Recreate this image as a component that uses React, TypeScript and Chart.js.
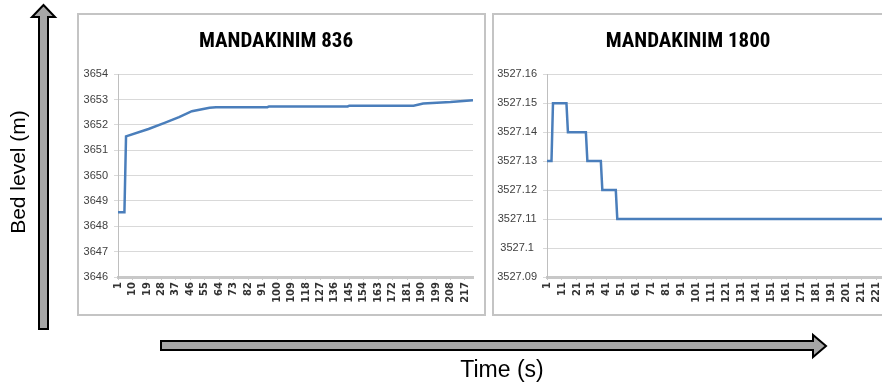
import React, { useEffect, useRef } from "react";
import { Chart, registerables } from "chart.js";

Chart.register(...registerables);

// ---------- data ----------
const leftTitle = "MANDAKINIM 836";
const leftX = [1, 5, 6, 20, 30, 39, 47, 58, 62, 94, 95, 144, 145, 185, 191, 208, 222];
const leftY = [
  3648.55, 3648.55, 3651.55, 3651.84, 3652.08, 3652.31, 3652.54, 3652.68, 3652.7,
  3652.7, 3652.73, 3652.73, 3652.76, 3652.76, 3652.84, 3652.9, 3652.97,
];
const leftXTicks = [
  1, 10, 19, 28, 37, 46, 55, 64, 73, 82, 91, 100, 109, 118, 127, 136, 145, 154, 163, 172,
  181, 190, 199, 208, 217,
];
const leftYTicks = [3646, 3647, 3648, 3649, 3650, 3651, 3652, 3653, 3654];

const rightTitle = "MANDAKINIM 1800";
const rightX = [1, 4, 5, 14, 15, 27, 28, 37, 38, 47, 48, 225];
const rightY = [
  3527.13, 3527.13, 3527.15, 3527.15, 3527.14, 3527.14, 3527.13, 3527.13, 3527.12,
  3527.12, 3527.11, 3527.11,
];
const rightXTicks = [
  1, 11, 21, 31, 41, 51, 61, 71, 81, 91, 101, 111, 121, 131, 141, 151, 161, 171, 181, 191,
  201, 211, 221,
];
const rightYTicks = [3527.09, 3527.1, 3527.11, 3527.12, 3527.13, 3527.14, 3527.15, 3527.16];

const yAxisLabel = "Bed level (m)";
const xAxisLabel = "Time (s)";

// ---------- styles ----------
const TITLE_FONT = '"Liberation Sans Narrow", "Roboto Condensed", "Liberation Sans", sans-serif';
const TICK_FONT = '"Liberation Sans Narrow", "Liberation Sans", sans-serif';
const XTICK_FONT = '"DejaVu Sans", sans-serif';

type PanelProps = {
  left: number;
  top: number;
  width: number;
  height: number;
  title: string;
  xs: number[];
  ys: number[];
  xTicks: number[];
  xMax: number;
  yTicks: number[];
  yAxisWidth: number;
  padRight: number;
};

function Panel(p: PanelProps) {
  const ref = useRef<HTMLCanvasElement | null>(null);
  const cw = p.width - 4;
  const ch = p.height - 4;
  useEffect(() => {
    if (!ref.current) return;
    const chart = new Chart(ref.current, {
      type: "line",
      data: {
        datasets: [
          {
            data: p.xs.map((x, i) => ({ x, y: p.ys[i] })),
            borderColor: "#4a7ebb",
            borderWidth: 2.5,
            pointRadius: 0,
            tension: 0,
            fill: false,
          },
        ],
      },
      options: {
        animation: false,
        responsive: false,
        maintainAspectRatio: false,
        layout: { padding: { left: 0, right: p.padRight, top: 0, bottom: 0 } },
        plugins: {
          legend: { display: false },
          tooltip: { enabled: false },
          title: {
            display: true,
            text: p.title,
            color: "#000",
            font: { family: TITLE_FONT, size: 21, weight: "bold" },
            padding: { top: 14, bottom: 20 },
          },
        },
        scales: {
          x: {
            type: "linear",
            min: 1,
            max: p.xMax,
            afterBuildTicks: (s: any) => {
              s.ticks = p.xTicks.map((v) => ({ value: v }));
            },
            afterFit: (s: any) => {
              s.height = 37;
            },
            ticks: {
              autoSkip: false,
              minRotation: 90,
              maxRotation: 90,
              padding: 2,
              color: "#333",
              font: { family: XTICK_FONT, size: 10, weight: "bold" },
              callback: (v: any) => String(v),
            },
            grid: { drawOnChartArea: false, tickLength: 3, color: "#c8c8c8" },
            border: { color: "#c8c8c8", width: 3 },
          },
          y: {
            type: "linear",
            min: p.yTicks[0],
            max: p.yTicks[p.yTicks.length - 1],
            afterBuildTicks: (s: any) => {
              s.ticks = p.yTicks.map((v) => ({ value: v }));
            },
            afterFit: (s: any) => {
              s.width = p.yAxisWidth;
            },
            ticks: {
              color: "#404040",
              padding: 6,
              crossAlign: "center",
              font: { family: TICK_FONT, size: 11 },
              callback: (v: any) => String(v),
            },
            grid: { color: "#d9d9d9", tickLength: 4 },
            border: { color: "#bfbfbf" },
          },
        },
      } as any,
    });
    return () => chart.destroy();
  }, []);
  return (
    <div
      style={{
        position: "absolute",
        left: p.left,
        top: p.top,
        width: p.width,
        height: p.height,
        boxSizing: "border-box",
        border: "2px solid #c4c4c4",
        background: "#fff",
      }}
    >
      <canvas ref={ref} width={cw} height={ch} style={{ display: "block", width: cw, height: ch }} />
    </div>
  );
}

export default function App() {
  return (
    <div
      style={{
        position: "absolute",
        left: 0,
        top: 0,
        width: 882,
        height: 383,
        overflow: "hidden",
        background: "#fff",
      }}
    >
      <Panel
        left={77}
        top={13}
        width={409}
        height={303}
        title={leftTitle}
        xs={leftX}
        ys={leftY}
        xTicks={leftXTicks}
        xMax={222}
        yTicks={leftYTicks}
        yAxisWidth={39}
        padRight={11}
      />
      <Panel
        left={492}
        top={13}
        width={402}
        height={303}
        title={rightTitle}
        xs={rightX}
        ys={rightY}
        xTicks={rightXTicks}
        xMax={225}
        yTicks={rightYTicks}
        yAxisWidth={53}
        padRight={10}
      />
      <svg
        width={882}
        height={383}
        style={{ position: "absolute", left: 0, top: 0, pointerEvents: "none" }}
      >
        <polygon
          points="39,329 39,17 32,17 43.5,5 55,17 48,17 48,329"
          fill="#a6a6a6"
          stroke="#000"
          strokeWidth={2}
        />
        <polygon
          points="161,341 813,341 813,335 826,346 813,357 813,350 161,350"
          fill="#a6a6a6"
          stroke="#000"
          strokeWidth={2}
        />
      </svg>
      <div
        style={{
          position: "absolute",
          left: 17,
          top: 172,
          transform: "translate(-50%, -50%) rotate(-90deg)",
          whiteSpace: "nowrap",
          fontFamily: '"Liberation Sans", Arial, sans-serif',
          fontSize: 21,
          color: "#000",
          lineHeight: 1,
        }}
      >
        {yAxisLabel}
      </div>
      <div
        style={{
          position: "absolute",
          left: 502,
          top: 369,
          transform: "translate(-50%, -50%)",
          whiteSpace: "nowrap",
          fontFamily: '"Liberation Sans", Arial, sans-serif',
          fontSize: 23,
          color: "#000",
          lineHeight: 1,
        }}
      >
        {xAxisLabel}
      </div>
    </div>
  );
}
